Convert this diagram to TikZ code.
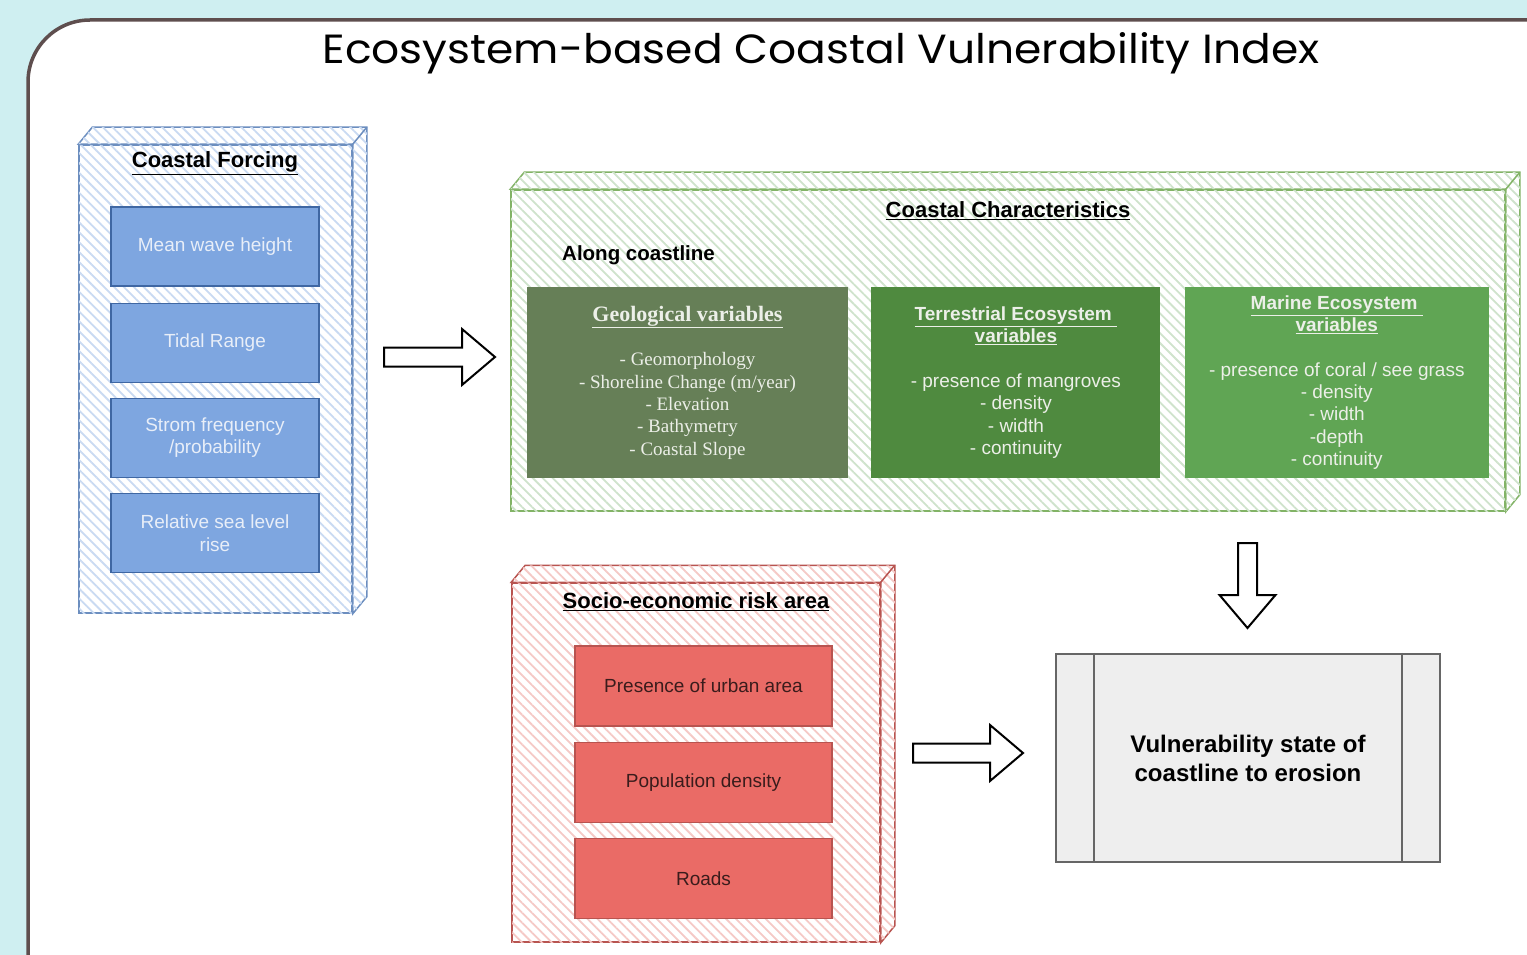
\documentclass[tikz,border=0pt]{standalone}
\usepackage{fontspec}
\setmainfont{Liberation Sans}
\newfontfamily\geofont{Liberation Serif}
\newfontfamily\headfont{Poppins}
\usetikzlibrary{positioning,calc,patterns.meta}

\definecolor{pagecyan}{HTML}{CFEFF1}
\definecolor{framegrey}{HTML}{5E4E4E}
\definecolor{forceline}{HTML}{6C8EBF}
\definecolor{forcehatch}{HTML}{C9DAF2}
\definecolor{forcefill}{HTML}{7EA6E0}
\definecolor{forcedraw}{HTML}{3F67A3}
\definecolor{forcetext}{HTML}{E8EEF8}
\definecolor{charline}{HTML}{82B366}
\definecolor{charhatch}{HTML}{CFE3CC}
\definecolor{geofill}{HTML}{667F57}
\definecolor{terrfill}{HTML}{4F8A3F}
\definecolor{marinefill}{HTML}{60A554}
\definecolor{greentext}{HTML}{ECEFE8}
\definecolor{riskline}{HTML}{B85450}
\definecolor{riskhatch}{HTML}{F5C9C6}
\definecolor{riskfill}{HTML}{EA6B66}
\definecolor{risktext}{HTML}{3A1C1C}
\definecolor{procfill}{HTML}{EEEEEE}
\definecolor{procdraw}{HTML}{666666}

\tikzset{
  hatched/.style={pattern={Lines[angle=-45,distance=7pt,line width=1.8pt]},pattern color=#1},
  cubefront/.style 2 args={draw=#1,line width=1.5pt,fill=white,postaction={hatched=#2},inner sep=0pt},
  cubetitle/.style={font=\fontsize{22}{26}\selectfont\bfseries},
  forcebox/.style={draw=forcedraw,line width=1.2pt,fill=forcefill,text=forcetext,
    minimum width=208pt,minimum height=79pt,align=center,inner sep=0pt,
    font=\fontsize{19}{22.3}\selectfont},
  riskbox/.style={draw=riskline,line width=1.2pt,fill=riskfill,text=risktext,
    minimum width=257pt,minimum height=80pt,align=center,inner sep=0pt,
    font=\fontsize{19}{22.3}\selectfont},
  varbox/.style={fill=#1,minimum height=191pt,align=center,text=greentext,inner sep=0pt,
    font=\fontsize{19}{22.3}\selectfont},
  procbox/.style={draw=procdraw,fill=procfill,line width=2.4pt,minimum width=384pt,
    minimum height=208pt,align=center,font=\fontsize{24}{29}\selectfont\bfseries},
  blockarr/.style={draw=black,fill=white,line width=2pt,line join=miter}
}

% top and right faces of a 3d box
\newcommand{\cubefaces}[3]{%
  \filldraw[draw=#2,line width=1.5pt,fill=white,postaction={hatched=#3}]
    (#1.north west) -- ++(14,-17) -- ($(#1.north east)+(14,-17)$)
    -- ($(#1.south east)+(14,-17)$) -- (#1.south east) -- (#1.north east) -- cycle;
  \draw[#2,line width=1.5pt] (#1.north east) -- ++(14,-17);
}
% hollow block arrows
\newcommand{\harrow}[2]{%
  \draw[blockarr] ($(#1)+(0,-9.5)$) -- ($(#2)+(-33,-9.5)$) -- ($(#2)+(-33,-28)$) -- (#2)
    -- ($(#2)+(-33,28)$) -- ($(#2)+(-33,9.5)$) -- ($(#1)+(0,9.5)$) -- cycle;
}
\newcommand{\varrow}[2]{%
  \draw[blockarr] ($(#1)+(-9.5,0)$) -- ($(#2)+(-9.5,-33)$) -- ($(#2)+(-28,-33)$) -- (#2)
    -- ($(#2)+(28,-33)$) -- ($(#2)+(9.5,-33)$) -- ($(#1)+(9.5,0)$) -- cycle;
}

\begin{document}
\begin{tikzpicture}[x=1pt,y=-1pt]
    \useasboundingbox (0,0) rectangle (1527,955);
    \fill[pagecyan] (0,0) rectangle (1527,955);
    \begin{scope}
        \clip (0,0) rectangle (1527,955);
        \filldraw[fill=white,draw=framegrey,line width=3.5pt,rounded corners=62pt] (28,20) rectangle (1600,1020);
    \end{scope}

    \node (title) at (821,53) {\resizebox{997pt}{31pt}{\headfont\fontsize{44}{50}\selectfont Ecosystem-based Coastal Vulnerability Index}};

    % coastal forcing
    \node[cubefront={forceline}{forcehatch},minimum width=273pt,minimum height=468pt] (forcing) at (215.5,379) {};
    \cubefaces{forcing}{forceline}{forcehatch}
    \node[cubetitle] (forcingtitle) at (215,163) {\underline{Coastal Forcing}};
    \node[forcebox] (wave) at (215,246.5) {Mean wave height};
    \node[forcebox,below=16pt of wave] (tide) {Tidal Range};
    \node[forcebox,below=15pt of tide] (storm) {Strom frequency\\/probability};
    \node[forcebox,below=15pt of storm] (sealevel) {Relative sea level\\rise};

    % coastal characteristics
    \node[cubefront={charline}{charhatch},minimum width=994pt,minimum height=321pt] (charac) at (1008,350.5) {};
    \cubefaces{charac}{charline}{charhatch}
    \node[cubetitle] (charactitle) at (1008,211) {\underline{Coastal Characteristics}};
    \node[font=\fontsize{20.5}{24}\selectfont\bfseries,anchor=west,inner sep=0pt] (along) at (562,255) {Along coastline};
    \node[varbox=geofill,minimum width=321pt,font=\geofont\fontsize{19}{22.3}\selectfont] (geo) at (687.5,382.5)
        {{\fontsize{22}{26}\selectfont\bfseries\underline{Geological variables}}\\[22.3pt]
         - Geomorphology\\ - Shoreline Change (m/year)\\ - Elevation\\ - Bathymetry\\ - Coastal Slope};
    \node[varbox=terrfill,minimum width=289pt,right=23pt of geo] (terr)
        {{\bfseries\underline{Terrestrial Ecosystem\ }}\\{\bfseries\underline{variables}}\\[22.3pt]
         - presence of mangroves\\ - density\\ - width\\ - continuity};
    \node[varbox=marinefill,minimum width=304pt,right=24pt of terr] (marine)
        {{\bfseries\underline{Marine Ecosystem\ }}\\{\bfseries\underline{variables}}\\[22.3pt]
         - presence of coral / see grass\\ - density\\ - width\\ -depth\\ - continuity};

    % socio-economic risk
    \node[cubefront={riskline}{riskhatch},minimum width=368pt,minimum height=359pt] (risk) at (696,762.5) {};
    \cubefaces{risk}{riskline}{riskhatch}
    \node[cubetitle] (risktitle) at (696,602) {\underline{Socio-economic risk area}};
    \node[riskbox] (urban) at (703.5,686) {Presence of urban area};
    \node[riskbox,below=15pt of urban] (population) {Population density};
    \node[riskbox,below=15pt of population] (roads) {Roads};

    % result
    \node[procbox] (vuln) at (1248,758) {Vulnerability state of\\coastline to erosion};
    \draw[procdraw,line width=2.4pt] ($(vuln.north west)+(39,0)$) -- ($(vuln.south west)+(39,0)$);
    \draw[procdraw,line width=2.4pt] ($(vuln.north east)+(-39,0)$) -- ($(vuln.south east)+(-39,0)$);

    % arrows
    \coordinate (a1s) at (384,357);
    \coordinate (a1e) at (495,357);
    \coordinate (a2s) at (913,753);
    \coordinate (a2e) at (1023,753);
    \coordinate (a3s) at (1247.5,543);
    \coordinate (a3e) at (1247.5,628);
    \harrow{a1s}{a1e}
    \harrow{a2s}{a2e}
    \varrow{a3s}{a3e}
\end{tikzpicture}
\end{document}
